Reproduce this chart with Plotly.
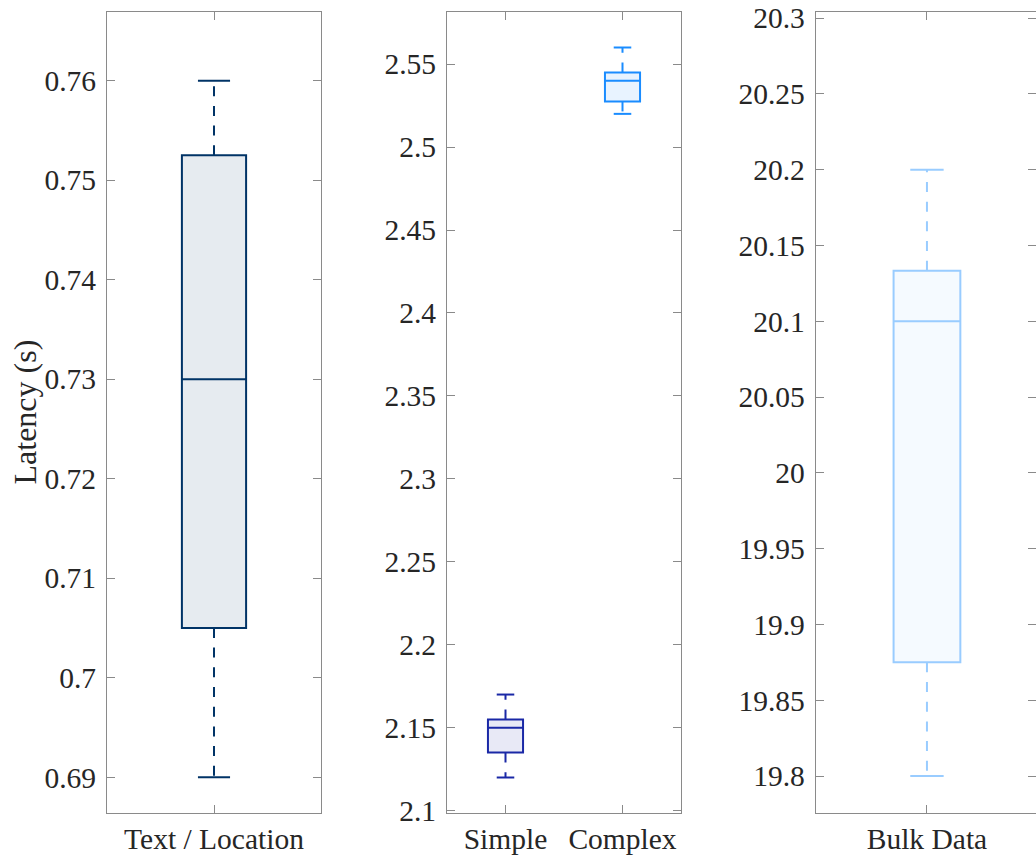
import plotly.graph_objects as go

# Five-number summaries (whisker low, Q1, median, Q3, whisker high) per group
panel1_labels = ["Text / Location"]
panel1_low = [0.69]
panel1_q1 = [0.705]
panel1_med = [0.73]
panel1_q3 = [0.7525]
panel1_high = [0.76]

panel2_labels = ["Simple", "Complex"]
panel2_low = [2.12, 2.52]
panel2_q1 = [2.135, 2.5275]
panel2_med = [2.15, 2.54]
panel2_q3 = [2.155, 2.545]
panel2_high = [2.17, 2.56]

panel3_labels = ["Bulk Data"]
panel3_low = [19.8]
panel3_q1 = [19.875]
panel3_med = [20.1]
panel3_q3 = [20.1333]
panel3_high = [20.2]

# Y tick values and their labels
panel1_ticks = [0.69, 0.70, 0.71, 0.72, 0.73, 0.74, 0.75, 0.76]
panel1_ticktext = ["0.69", "0.7", "0.71", "0.72", "0.73", "0.74", "0.75", "0.76"]
panel2_ticks = [2.1, 2.15, 2.2, 2.25, 2.3, 2.35, 2.4, 2.45, 2.5, 2.55]
panel2_ticktext = ["2.1", "2.15", "2.2", "2.25", "2.3", "2.35", "2.4", "2.45", "2.5", "2.55"]
panel3_ticks = [19.8, 19.85, 19.9, 19.95, 20.0, 20.05, 20.1, 20.15, 20.2, 20.25, 20.3]
panel3_ticktext = ["19.8", "19.85", "19.9", "19.95", "20", "20.05", "20.1", "20.15",
                   "20.2", "20.25", "20.3"]

FONT = "Liberation Serif"
TEXT_COLOR = "#262626"
AXIS_COLOR = "#8a8a8a"
BOX_WIDTH = 0.3
CAP_HALF = 0.075
DASH = "10px,9.7px"


def add_group(fig, xref, yref, pos, low, q1, med, q3, high, color, fill):
    # box body with median; whiskers are drawn separately as dashed lines
    fig.add_trace(go.Box(
        x=[pos], q1=[q1], median=[med], q3=[q3], lowerfence=[q1], upperfence=[q3],
        width=BOX_WIDTH, whiskerwidth=0, fillcolor=fill,
        line=dict(color=color, width=2), boxpoints=False,
        xaxis=xref, yaxis=yref, showlegend=False, hoverinfo="skip"))
    for start, end in ((q3, high), (q1, low)):
        fig.add_trace(go.Scatter(
            x=[pos, pos], y=[start, end], mode="lines",
            line=dict(color=color, width=2, dash=DASH),
            xaxis=xref, yaxis=yref, showlegend=False, hoverinfo="skip"))
        fig.add_trace(go.Scatter(
            x=[pos - CAP_HALF, pos + CAP_HALF], y=[end, end], mode="lines",
            line=dict(color=color, width=2),
            xaxis=xref, yaxis=yref, showlegend=False, hoverinfo="skip"))


fig = go.Figure()

for i in range(len(panel1_labels)):
    add_group(fig, "x", "y", i + 1, panel1_low[i], panel1_q1[i], panel1_med[i],
              panel1_q3[i], panel1_high[i], "#003366", "#e6ebf0")

panel2_colors = ["#1a28a6", "#1a8cff"]
panel2_fills = ["#e8e9f6", "#e8f3ff"]
for i in range(len(panel2_labels)):
    add_group(fig, "x2", "y2", i + 1, panel2_low[i], panel2_q1[i], panel2_med[i],
              panel2_q3[i], panel2_high[i], panel2_colors[i], panel2_fills[i])

for i in range(len(panel3_labels)):
    add_group(fig, "x3", "y3", i + 1, panel3_low[i], panel3_q1[i], panel3_med[i],
              panel3_q3[i], panel3_high[i], "#99ccff", "#f5faff")

tick_font = dict(family=FONT, size=29.5, color=TEXT_COLOR)
common_axis = dict(
    showline=True, mirror="ticks", linecolor=AXIS_COLOR, linewidth=1,
    ticks="inside", ticklen=8, tickwidth=1, tickcolor=AXIS_COLOR,
    showgrid=False, zeroline=False, tickfont=tick_font, fixedrange=True,
    automargin=False,
)

y_dom = [1 - 813 / 861, 1 - 12 / 861]

fig.update_layout(
    width=1036, height=861,
    margin=dict(l=0, r=0, t=0, b=0),
    paper_bgcolor="white", plot_bgcolor="white",
    xaxis=dict(domain=[107 / 1036, 321 / 1036], range=[0.5, 1.5],
               tickvals=[1], ticktext=panel1_labels, anchor="y", **common_axis),
    yaxis=dict(domain=y_dom, range=[0.6864, 0.7669], tickvals=panel1_ticks,
               ticktext=panel1_ticktext, anchor="x", ticklabelstandoff=4, **common_axis),
    xaxis2=dict(domain=[447 / 1036, 681 / 1036], range=[0.5, 2.5],
                tickvals=[1, 2], ticktext=panel2_labels, anchor="y2", **common_axis),
    yaxis2=dict(domain=y_dom, range=[2.0986, 2.5814], tickvals=panel2_ticks,
                ticktext=panel2_ticktext, anchor="x2", ticklabelstandoff=4, **common_axis),
    xaxis3=dict(domain=[815.7 / 1036, 1.0], range=[0.5, 1.49],
                tickvals=[1], ticktext=panel3_labels, anchor="y3", **common_axis),
    yaxis3=dict(domain=y_dom, range=[19.7756, 20.304], tickvals=panel3_ticks,
                ticktext=panel3_ticktext, anchor="x3", ticklabelstandoff=4, **common_axis),
    annotations=[dict(
        text="Latency (s)", x=25 / 1036, y=(y_dom[0] + y_dom[1]) / 2,
        xref="paper", yref="paper", textangle=-90, showarrow=False,
        xanchor="center", yanchor="middle",
        font=dict(family=FONT, size=32, color=TEXT_COLOR))],
)

fig.write_html("out.html")
